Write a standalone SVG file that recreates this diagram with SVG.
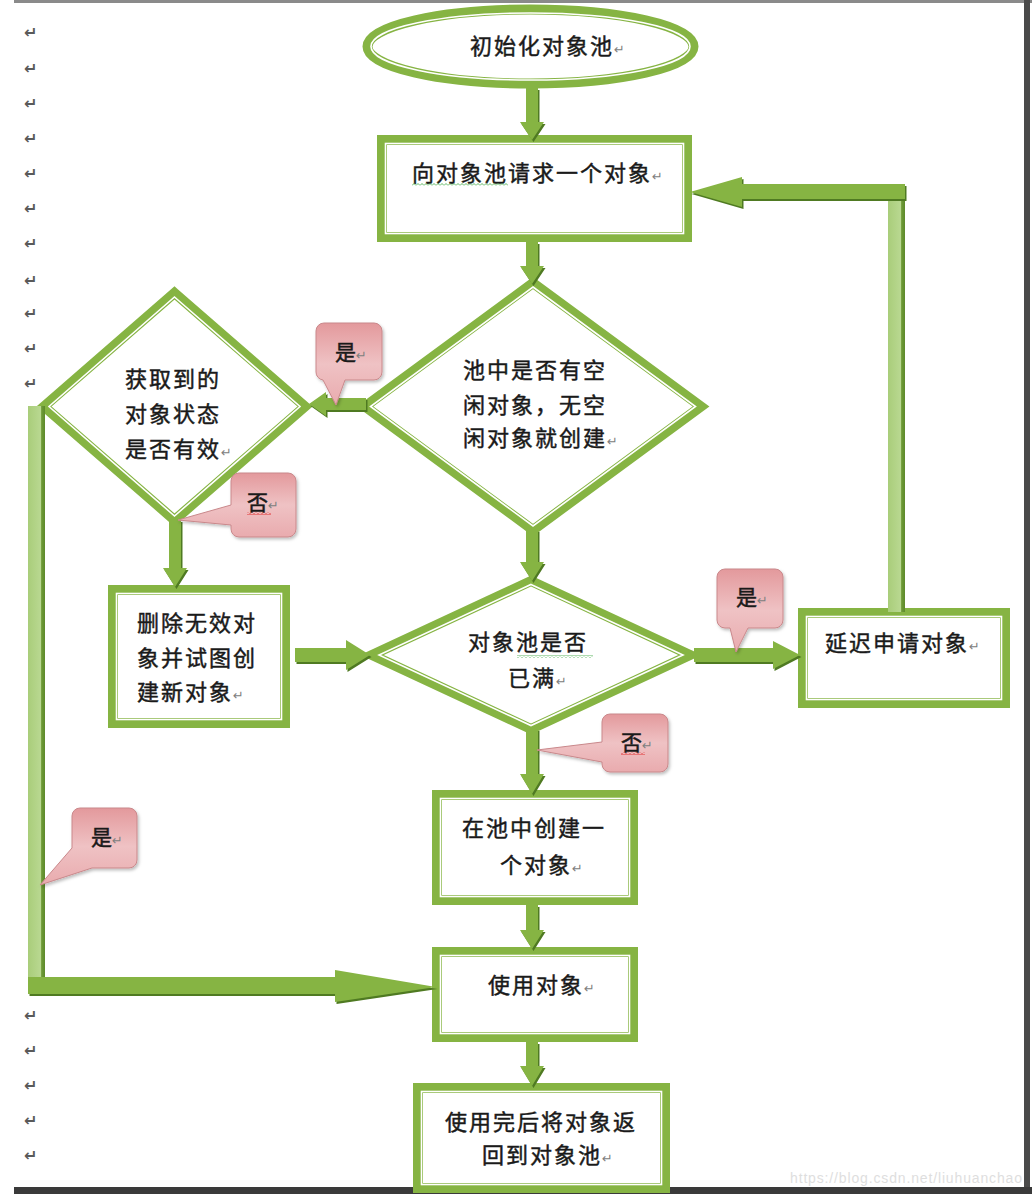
<svg xmlns="http://www.w3.org/2000/svg" xmlns:xlink="http://www.w3.org/1999/xlink" width="1032" height="1194" viewBox="0 0 1032 1194">
<defs>
<style>
.o{fill:#fff;stroke:#86b443;stroke-width:10;stroke-linejoin:miter}
.i{fill:none;stroke:#fff;stroke-width:1.6}
.t{font-family:"Noto Sans CJK SC","Noto Sans CJK JP",sans-serif;font-size:22px;letter-spacing:2px;fill:#1a1a1a;stroke:#1a1a1a;stroke-width:0.45}
.pm{font-family:"DejaVu Sans",sans-serif;font-size:13px;fill:#808080;stroke:none;letter-spacing:0}
.mk{font-family:"DejaVu Sans",sans-serif;font-size:16px;font-weight:bold;fill:#5a5a5a}
.co{fill:url(#pink);stroke:#c9888b;stroke-width:1;filter:url(#sh)}
.ct{font-family:"Noto Sans CJK SC","Noto Sans CJK JP",sans-serif;font-size:21px;fill:#1a1a1a;stroke:#1a1a1a;stroke-width:0.5}
</style>
<linearGradient id="pink" x1="0" y1="0" x2="0" y2="1">
<stop offset="0" stop-color="#e3999c"/>
<stop offset="0.5" stop-color="#efc2c4"/>
<stop offset="1" stop-color="#e9abae"/>
</linearGradient>
<linearGradient id="barv" x1="0" y1="0" x2="1" y2="0">
<stop offset="0" stop-color="#a9cd7a"/>
<stop offset="0.75" stop-color="#b9d891"/>
<stop offset="0.8" stop-color="#6e9a37"/>
<stop offset="1" stop-color="#5d8a2b"/>
</linearGradient>
<filter id="sh" x="-20%" y="-20%" width="150%" height="150%">
<feDropShadow dx="1.5" dy="2" stdDeviation="1.5" flood-color="#000" flood-opacity="0.25"/>
</filter>
<pattern id="wg" width="4" height="3" patternUnits="userSpaceOnUse">
<path d="M0,2.5 L2,0.5 L4,2.5" fill="none" stroke="#4caf50" stroke-width="0.9"/>
</pattern>
<pattern id="wr" width="4" height="3" patternUnits="userSpaceOnUse">
<path d="M0,2.5 L2,0.5 L4,2.5" fill="none" stroke="#e02020" stroke-width="0.9"/>
</pattern>
<polygon id="p1" points="526,88 538,88 538,122 544,122 532,140 520,122 526,122"/>
<polygon id="p2" points="526,242 538,242 538,266 544,266 532,284 520,266 526,266"/>
<polygon id="p3" points="366,398 326,398 326,392 309,404 326,416 326,410 366,410"/>
<polygon id="p4" points="169,520 181,520 181,568 187,568 175,587 163,568 169,568"/>
<polygon id="p5" points="295,648 346,648 346,640 370,655 346,670 346,662 295,662"/>
<polygon id="p6" points="526,530 538,530 538,562 544,562 532,581 520,562 526,562"/>
<polygon id="p7" points="694,648 773,648 773,641 800,655 773,669 773,662 694,662"/>
<polygon id="p8" points="905,184 742,184 742,177 690,192 742,207 742,199 905,199"/>
<polygon id="p9" points="526,729 538,729 538,774 544,774 532,794 520,774 526,774"/>
<polygon id="p10" points="526,905 538,905 538,930 544,930 532,949 520,930 526,930"/>
<polygon id="p11" points="28,977 335,977 335,970 436,987 335,1002 335,994 28,994"/>
<polygon id="p12" points="526,1042 538,1042 538,1066 544,1066 532,1086 520,1066 526,1066"/>
</defs>
<rect width="1032" height="1194" fill="#fff"/>
<g id="page">
<rect x="14" y="0" width="1018" height="3" fill="#8a8a8a"/>
<rect x="1024" y="0" width="6" height="1194" fill="#4a4a4a"/>
<rect x="14" y="1187" width="1018" height="7" fill="#3a3a3a"/>
<g class="mk">
<text x="24" y="38">↵</text><text x="24" y="74">↵</text><text x="24" y="109">↵</text><text x="24" y="144">↵</text><text x="24" y="179">↵</text><text x="24" y="214">↵</text><text x="24" y="249">↵</text><text x="24" y="286">↵</text><text x="24" y="319">↵</text><text x="24" y="354">↵</text><text x="24" y="389">↵</text>
<text x="24" y="1021">↵</text><text x="24" y="1056">↵</text><text x="24" y="1091">↵</text><text x="24" y="1126">↵</text><text x="24" y="1161">↵</text>
</g>
<text x="790" y="1183" font-family="Liberation Sans, sans-serif" font-size="14" fill="#dedede" textLength="232">https://blog.csdn.net/liuhuanchao</text>
</g>
<g id="n-init">
<ellipse class="o" cx="530.5" cy="46.5" rx="163" ry="37"/>
<ellipse class="i" cx="530.5" cy="46.5" rx="159.5" ry="33.5"/>
<text class="t" x="470" y="54">初始化对象池<tspan class="pm">↵</tspan></text>
</g>
<g id="n-request">
<rect class="o" x="382" y="140" width="305" height="97"/>
<rect class="i" x="385.5" y="143.5" width="298" height="90"/>
<text class="t" x="412" y="181">向对象池请求一个对象<tspan class="pm">↵</tspan></text>
<rect x="412" y="183" width="96" height="3" fill="url(#wg)"/>
</g>
<g id="n-idle">
<polygon class="o" points="533,283 701,406.5 533,530 365,406.5"/>
<polygon class="i" points="533,287 695.5,406.5 533,526 370.5,406.5"/>
<text class="t" x="463" y="378">池中是否有空</text>
<text class="t" x="463" y="413">闲对象，无空</text>
<text class="t" x="463" y="446">闲对象就创建<tspan class="pm">↵</tspan></text>
</g>
<g id="n-valid">
<polygon class="o" points="174.5,293 305,406.5 174.5,520 44,406.5"/>
<polygon class="i" points="174.5,297 300,406.5 174.5,516 49,406.5"/>
<text class="t" x="125" y="387">获取到的</text>
<text class="t" x="125" y="422">对象状态</text>
<text class="t" x="125" y="457">是否有效<tspan class="pm">↵</tspan></text>
</g>
<g id="n-delete">
<rect class="o" x="113" y="590" width="172" height="133"/>
<rect class="i" x="116.5" y="593.5" width="165" height="126"/>
<text class="t" x="137" y="631">删除无效对</text>
<text class="t" x="137" y="666">象并试图创</text>
<text class="t" x="137" y="700">建新对象<tspan class="pm">↵</tspan></text>
</g>
<g id="n-full">
<polygon class="o" points="531,581 690,655 531,729 372,655"/>
<polygon class="i" points="531,584.5 683,655 531,725.5 379,655"/>
<text class="t" x="468" y="650">对象池是否</text>
<rect x="517" y="655" width="76" height="3" fill="url(#wg)"/>
<text class="t" x="508" y="686">已满<tspan class="pm">↵</tspan></text>
</g>
<g id="n-delay">
<rect class="o" x="803" y="613" width="202" height="90"/>
<rect class="i" x="806.5" y="616.5" width="195" height="83"/>
<text class="t" x="825" y="651">延迟申请对象<tspan class="pm">↵</tspan></text>
</g>
<g id="n-create">
<rect class="o" x="437" y="795" width="196" height="105"/>
<rect class="i" x="440.5" y="798.5" width="189" height="98"/>
<text class="t" x="462" y="836">在池中创建一</text>
<text class="t" x="500" y="873">个对象<tspan class="pm">↵</tspan></text>
</g>
<g id="n-use">
<rect class="o" x="437" y="952" width="196" height="85"/>
<rect class="i" x="440.5" y="955.5" width="189" height="78"/>
<text class="t" x="488" y="993">使用对象<tspan class="pm">↵</tspan></text>
</g>
<g id="n-return">
<rect class="o" x="418" y="1088" width="247" height="100"/>
<rect class="i" x="421.5" y="1091.5" width="240" height="93"/>
<text class="t" x="445" y="1130">使用完后将对象返</text>
<text class="t" x="482" y="1163">回到对象池<tspan class="pm">↵</tspan></text>
</g>
<g id="connectors">
<rect x="888" y="184" width="17" height="428" fill="url(#barv)"/>
<rect x="28" y="406" width="17" height="588" fill="url(#barv)"/>
<use xlink:href="#p1" fill="#4f7a22" transform="translate(1.5,2)"/><use xlink:href="#p1" fill="#86b443"/>
<use xlink:href="#p2" fill="#4f7a22" transform="translate(1.5,2)"/><use xlink:href="#p2" fill="#86b443"/>
<use xlink:href="#p3" fill="#4f7a22" transform="translate(1.5,2)"/><use xlink:href="#p3" fill="#86b443"/>
<use xlink:href="#p4" fill="#4f7a22" transform="translate(1.5,2)"/><use xlink:href="#p4" fill="#86b443"/>
<use xlink:href="#p5" fill="#4f7a22" transform="translate(1.5,2)"/><use xlink:href="#p5" fill="#86b443"/>
<use xlink:href="#p6" fill="#4f7a22" transform="translate(1.5,2)"/><use xlink:href="#p6" fill="#86b443"/>
<use xlink:href="#p7" fill="#4f7a22" transform="translate(1.5,2)"/><use xlink:href="#p7" fill="#86b443"/>
<use xlink:href="#p8" fill="#4f7a22" transform="translate(1.5,2)"/><use xlink:href="#p8" fill="#86b443"/>
<use xlink:href="#p9" fill="#4f7a22" transform="translate(1.5,2)"/><use xlink:href="#p9" fill="#86b443"/>
<use xlink:href="#p10" fill="#4f7a22" transform="translate(1.5,2)"/><use xlink:href="#p10" fill="#86b443"/>
<use xlink:href="#p11" fill="#4f7a22" transform="translate(1.5,2)"/><use xlink:href="#p11" fill="#86b443"/>
<use xlink:href="#p12" fill="#4f7a22" transform="translate(1.5,2)"/><use xlink:href="#p12" fill="#86b443"/>
</g>
<g id="labels">
<g id="c-yes1">
<path class="co" d="M324,323 H374 A8,8 0 0 1 382,331 V372 A8,8 0 0 1 374,380 H345 L336,405 L323,380 A8,8 0 0 1 316,372 V331 A8,8 0 0 1 324,323 Z"/>
<text class="ct" x="335" y="360">是<tspan class="pm">↵</tspan></text>
</g>
<g id="c-no1">
<path class="co" d="M239,473 H288 A8,8 0 0 1 296,481 V529 A8,8 0 0 1 288,537 H239 A8,8 0 0 1 231,529 V525 L178,520 L231,505 V481 A8,8 0 0 1 239,473 Z"/>
<text class="ct" x="247" y="510">否<tspan class="pm">↵</tspan></text>
<rect x="247" y="512" width="24" height="3" fill="url(#wr)"/>
</g>
<g id="c-yes2">
<path class="co" d="M725,569 H775 A8,8 0 0 1 783,577 V620 A8,8 0 0 1 775,628 H748 L736,652 L730,628 H725 A8,8 0 0 1 717,620 V577 A8,8 0 0 1 725,569 Z"/>
<text class="ct" x="736" y="605">是<tspan class="pm">↵</tspan></text>
</g>
<g id="c-no2">
<path class="co" d="M610,714 H660 A8,8 0 0 1 668,722 V764 A8,8 0 0 1 660,772 H610 A8,8 0 0 1 602,764 V762 L537,750 L602,742 V722 A8,8 0 0 1 610,714 Z"/>
<text class="ct" x="621" y="750">否<tspan class="pm">↵</tspan></text>
<rect x="621" y="752" width="24" height="3" fill="url(#wr)"/>
</g>
<g id="c-yes3">
<path class="co" d="M80,808 H129 A8,8 0 0 1 137,816 V860 A8,8 0 0 1 129,868 H92 L40,885 L72,848 V816 A8,8 0 0 1 80,808 Z"/>
<text class="ct" x="91" y="845">是<tspan class="pm">↵</tspan></text>
</g>
</g>
</svg>
